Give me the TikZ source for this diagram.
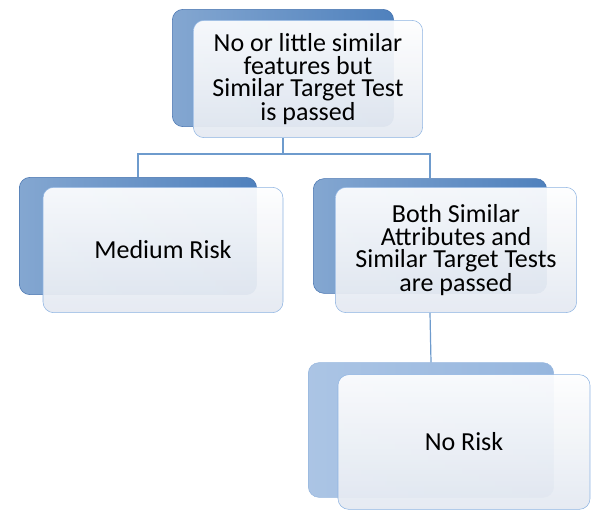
\documentclass[tikz,border=0pt]{standalone}
\usepackage{fontspec}
\setmainfont{Carlito}
\usepackage{tikz}
\usetikzlibrary{positioning, calc}

\definecolor{backblue}{RGB}{79,129,189}
\definecolor{backedge}{RGB}{70,115,175}
\definecolor{paleblue}{RGB}{150,182,222}
\definecolor{frontedge}{RGB}{141,179,226}
\definecolor{frontfill}{RGB}{228,233,241}
\definecolor{linkblue}{RGB}{110,155,205}

\begin{document}
\begin{tikzpicture}[
        x=0.75pt, y=-0.75pt,
        back/.style={rectangle, draw=backedge, left color=backblue!70, right color=backblue, rounded corners=8pt, inner sep=0pt},
        front/.style={rectangle, draw=frontedge, top color=white!95!frontfill, bottom color=frontfill, fill opacity=0.94, text opacity=1, rounded corners=8pt, align=center, font=\fontsize{19.5}{16.8}\selectfont, inner sep=0pt},
        link/.style={linkblue, line width=0.9pt}
    ]
    \useasboundingbox (0,0) rectangle (592,513);

    % Top: little similarity
    \node (topB) [back, minimum width=166pt, minimum height=88pt] at (283,68) {};
    \node (topF) [front, minimum width=172pt, minimum height=88pt] at (308,79) {No or little similar\\features but\\Similar Target Test\\is passed};

    % Left: medium risk
    \node (medB) [back, minimum width=178pt, minimum height=88pt] at (138,236) {};
    \node (medF) [front, minimum width=180pt, minimum height=94pt] at (163,250) {Medium Risk};

    % Right: both tests
    \node (bothB) [back, minimum width=175pt, minimum height=86pt] at (430,236) {};
    \node (bothF) [front, minimum width=181pt, minimum height=94pt] at (456,250) {Both Similar\\Attributes and\\Similar Target Tests\\are passed};

    % Bottom: no risk
    \node (noB) [back, draw=paleblue, left color=paleblue!80, right color=paleblue, minimum width=184pt, minimum height=101pt] at (431,430) {};
    \node (noF) [front, minimum width=189pt, minimum height=101pt] at (464,442) {No Risk};

    % Connectors
    \coordinate (split) at ($(topB |- topF.south)+(0,16)$);
    \draw[link] (topB |- topF.south) -- (split);
    \draw[link] (medB.north) -- (medB.north |- split) -- (bothB.north |- split) -- (bothB.north);
    \draw[link] (bothB |- bothF.south) -- (noB.north);

    \end{tikzpicture}
\end{document}
